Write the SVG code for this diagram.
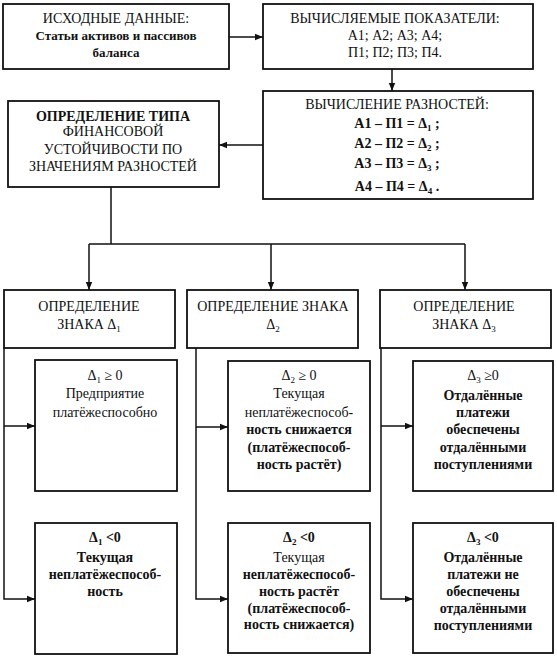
<svg xmlns="http://www.w3.org/2000/svg" width="557" height="659" viewBox="0 0 557 659">
<defs>
<style>
.box{fill:#fff;stroke:#111;stroke-width:1.8}
.con{fill:none;stroke:#111;stroke-width:1.5}
text{font-family:"Liberation Serif","Times New Roman",serif;font-size:14px;fill:#111;text-anchor:middle}
.b{font-weight:bold}
.s{font-size:13px}
.sub{font-size:9px}
</style>
<marker id="ah" viewBox="0 0 10 10" refX="10" refY="5" markerWidth="8" markerHeight="8" markerUnits="userSpaceOnUse" orient="auto">
<path d="M0,1 L10,5 L0,9 Z" fill="#111"/>
</marker>
</defs>
<rect width="557" height="659" fill="#fff"/>
<g id="connectors">
<line class="con" x1="229" y1="37" x2="263" y2="37" marker-end="url(#ah)"/>
<line class="con" x1="392" y1="69" x2="392" y2="91" marker-end="url(#ah)"/>
<line class="con" x1="263" y1="145" x2="219" y2="145" marker-end="url(#ah)"/>
<polyline class="con" points="111,187 111,244"/>
<line class="con" x1="89" y1="244" x2="465" y2="244"/>
<line class="con" x1="89" y1="244" x2="89" y2="290" marker-end="url(#ah)"/>
<line class="con" x1="271" y1="244" x2="271" y2="290" marker-end="url(#ah)"/>
<line class="con" x1="465" y1="244" x2="465" y2="290" marker-end="url(#ah)"/>
<polyline class="con" points="4,348 4,599 35,599" marker-end="url(#ah)"/>
<line class="con" x1="4" y1="426" x2="35" y2="426" marker-end="url(#ah)"/>
<polyline class="con" points="196,348 196,599 228,599" marker-end="url(#ah)"/>
<line class="con" x1="196" y1="427" x2="228" y2="427" marker-end="url(#ah)"/>
<polyline class="con" points="381,348 381,599 413,599" marker-end="url(#ah)"/>
<line class="con" x1="381" y1="426" x2="413" y2="426" marker-end="url(#ah)"/>
</g>
<g id="source">
<rect class="box" x="3" y="4" width="226" height="65"/>
<text x="116" y="23">ИСХОДНЫЕ ДАННЫЕ:</text>
<text class="b s" x="116" y="40">Статьи активов и пассивов</text>
<text class="b s" x="116" y="57">баланса</text>
</g>
<g id="indicators">
<rect class="box" x="263" y="4" width="270" height="65"/>
<text x="395" y="23">ВЫЧИСЛЯЕМЫЕ ПОКАЗАТЕЛИ:</text>
<text x="395" y="40">А1; А2; А3; А4;</text>
<text x="395" y="57">П1; П2; П3; П4.</text>
</g>
<g id="differences">
<rect class="box" x="263" y="91" width="270" height="108"/>
<text x="397" y="109">ВЫЧИСЛЕНИЕ РАЗНОСТЕЙ:</text>
<text class="b" x="397" y="128">А1 – П1 = Δ<tspan class="sub" dy="3">1</tspan><tspan dy="-3"> ;</tspan></text>
<text class="b" x="397" y="148">А2 – П2 = Δ<tspan class="sub" dy="3">2</tspan><tspan dy="-3"> ;</tspan></text>
<text class="b" x="397" y="168">А3 – П3 = Δ<tspan class="sub" dy="3">3</tspan><tspan dy="-3"> ;</tspan></text>
<text class="b" x="397" y="191">А4 – П4 = Δ<tspan class="sub" dy="3">4</tspan><tspan dy="-3"> .</tspan></text>
</g>
<g id="type">
<rect class="box" x="8" y="101" width="211" height="86"/>
<text class="b" x="113" y="121">ОПРЕДЕЛЕНИЕ ТИПА</text>
<text x="113" y="136">ФИНАНСОВОЙ</text>
<text x="113" y="154">УСТОЙЧИВОСТИ ПО</text>
<text x="113" y="171">ЗНАЧЕНИЯМ РАЗНОСТЕЙ</text>
</g>
<g id="sign1">
<rect class="box" x="4" y="290" width="171" height="58"/>
<text x="89" y="311">ОПРЕДЕЛЕНИЕ</text>
<text x="89" y="329">ЗНАКА   Δ<tspan class="sub" dy="3">1</tspan></text>
</g>
<g id="sign2">
<rect class="box" x="187" y="290" width="171" height="58"/>
<text x="273" y="311">ОПРЕДЕЛЕНИЕ ЗНАКА</text>
<text x="273" y="329">Δ<tspan class="sub" dy="3">2</tspan></text>
</g>
<g id="sign3">
<rect class="box" x="380" y="290" width="171" height="58"/>
<text x="464" y="311">ОПРЕДЕЛЕНИЕ</text>
<text x="464" y="329">ЗНАКА   Δ<tspan class="sub" dy="3">3</tspan></text>
</g>
<g id="d1pos">
<rect class="box" x="35" y="360" width="142" height="131"/>
<text x="105" y="380">Δ<tspan class="sub" dy="3">1</tspan><tspan dy="-3"> ≥ 0</tspan></text>
<text x="105" y="398">Предприятие</text>
<text x="105" y="417">платёжеспособно</text>
</g>
<g id="d1neg">
<rect class="box" x="35" y="523" width="142" height="131"/>
<text class="b" x="105" y="542">Δ<tspan class="sub" dy="3">1</tspan><tspan dy="-3"> &lt;0</tspan></text>
<text class="b" x="105" y="562">Текущая</text>
<text class="b" x="105" y="579">неплатёжеспособ-</text>
<text class="b" x="105" y="596">ность</text>
</g>
<g id="d2pos">
<rect class="box" x="228" y="361" width="142" height="130"/>
<text x="299" y="380">Δ<tspan class="sub" dy="3">2</tspan><tspan dy="-3"> ≥ 0</tspan></text>
<text x="299" y="398">Текущая</text>
<text x="299" y="417">неплатёжеспособ-</text>
<text class="b" x="299" y="434">ность снижается</text>
<text class="b" x="299" y="452">(платёжеспособ-</text>
<text class="b" x="299" y="469">ность растёт)</text>
</g>
<g id="d2neg">
<rect class="box" x="228" y="523" width="142" height="130"/>
<text class="b" x="299" y="542">Δ<tspan class="sub" dy="3">2</tspan><tspan dy="-3"> &lt;0</tspan></text>
<text x="299" y="562">Текущая</text>
<text class="b" x="299" y="579">неплатёжеспособ-</text>
<text class="b" x="299" y="596">ность растёт</text>
<text class="b" x="299" y="613">(платёжеспособ-</text>
<text class="b" x="299" y="629">ность снижается)</text>
</g>
<g id="d3pos">
<rect class="box" x="413" y="361" width="140" height="130"/>
<text x="483" y="380">Δ<tspan class="sub" dy="3">3</tspan><tspan dy="-3"> ≥0</tspan></text>
<text class="b" x="483" y="400">Отдалённые</text>
<text class="b" x="483" y="417">платежи</text>
<text class="b" x="483" y="434">обеспечены</text>
<text class="b" x="483" y="452">отдалёнными</text>
<text class="b" x="483" y="469">поступлениями</text>
</g>
<g id="d3neg">
<rect class="box" x="413" y="523" width="140" height="130"/>
<text class="b" x="483" y="542">Δ<tspan class="sub" dy="3">3</tspan><tspan dy="-3"> &lt;0</tspan></text>
<text class="b" x="483" y="562">Отдалённые</text>
<text class="b" x="483" y="579">платежи не</text>
<text class="b" x="483" y="596">обеспечены</text>
<text class="b" x="483" y="613">отдалёнными</text>
<text class="b" x="483" y="630">поступлениями</text>
</g>
</svg>
